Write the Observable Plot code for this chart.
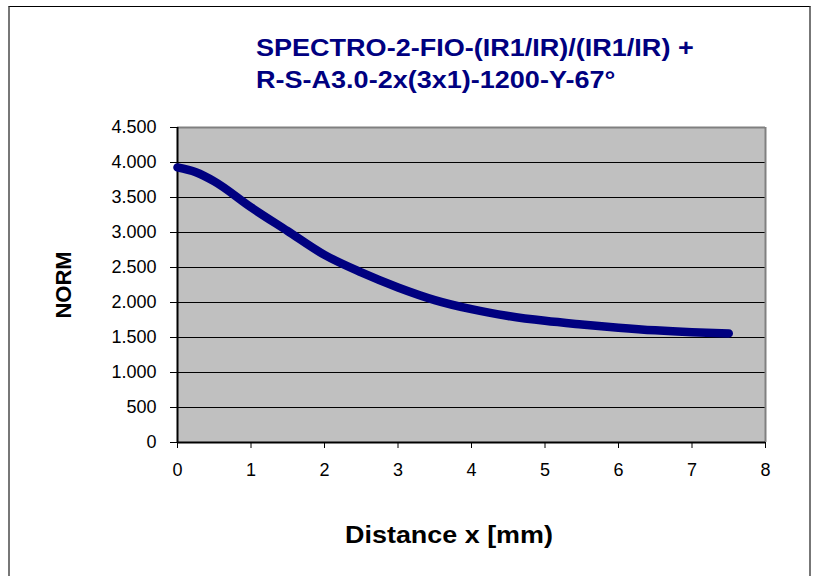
<!DOCTYPE html>
<html><head><meta charset="utf-8">
<script src="https://cdn.jsdelivr.net/npm/d3@7"></script>
<script src="https://cdn.jsdelivr.net/npm/@observablehq/plot@0.6"></script>
<style>
body{margin:0;background:#fff;}
#wrap{position:relative;width:816px;height:576px;overflow:hidden;font-family:"Liberation Sans",Arial,sans-serif;}
#frame{position:absolute;left:8px;top:6px;width:803px;height:600px;border-top:1px solid #000;border-left:2px solid #777;border-right:2px solid #777;box-sizing:border-box;pointer-events:none;}
#chart{position:absolute;left:0;top:0;}
.title{position:absolute;left:256px;top:32px;color:#000080;font-weight:bold;font-size:23px;line-height:32px;white-space:nowrap;transform:scaleX(1.175);transform-origin:0 0;}
.xlabel{position:absolute;left:449px;top:522px;font-weight:bold;font-size:23px;white-space:nowrap;transform:translateX(-50%) scaleX(1.17);}
.ylabel{position:absolute;left:64px;top:285px;transform:translate(-50%,-50%) rotate(-90deg);font-weight:bold;font-size:22px;white-space:nowrap;}
</style></head>
<body>
<div id="wrap">
  <div id="chart"></div>
  <div class="title">SPECTRO-2-FIO-(IR1/IR)/(IR1/IR) +<br>R-S-A3.0-2x(3x1)-1200-Y-67°</div>
  <div class="ylabel">NORM</div>
  <div class="xlabel">Distance x [mm)</div>
  <div id="frame"></div>
</div>
<script>
const distance = [0, 0.25, 0.5, 1, 1.5, 2, 2.5, 3, 3.5, 4, 4.5, 5, 5.5, 6, 6.5, 7, 7.5];
const norm = [3930, 3860, 3730, 3360, 3020, 2680, 2430, 2215, 2035, 1905, 1808, 1738, 1686, 1640, 1602, 1575, 1557];
const yTicks = [0, 500, 1000, 1500, 2000, 2500, 3000, 3500, 4000, 4500];
const xTicks = [0, 1, 2, 3, 4, 5, 6, 7, 8];

const data = distance.map((d, i) => ({x: d, y: norm[i]}));
const fmt = d3.formatLocale({thousands: ".", grouping: [3], decimal: ","}).format(",");

const plot = Plot.plot({
  width: 816,
  height: 576,
  marginLeft: 177,
  marginRight: 51,
  marginTop: 127,
  marginBottom: 134,
  style: {fontFamily: '"Liberation Sans", Arial, sans-serif', fontSize: "18px", color: "#000", background: "transparent"},
  x: {domain: [0, 8]},
  y: {domain: [0, 4500]},
  marks: [
    Plot.frame({fill: "#c0c0c0", stroke: null}),
    Plot.ruleY(yTicks.filter(d => d > 0 && d < 4500), {stroke: "#000", strokeWidth: 1.2}),
    Plot.ruleY([4500], {stroke: "#808080", strokeWidth: 2}),
    Plot.ruleX([8], {stroke: "#808080", strokeWidth: 2}),
    Plot.ruleX([0], {stroke: "#000", strokeWidth: 2}),
    Plot.ruleY([0], {stroke: "#000", strokeWidth: 2}),
    Plot.axisY({ticks: yTicks, tickSize: 7, tickPadding: 14, tickFormat: fmt, label: null, stroke: "#000"}),
    Plot.axisX({ticks: xTicks, tickSize: 6, tickPadding: 15, label: null, stroke: "#000"}),
    Plot.line(data, {x: "x", y: "y", stroke: "#000080", strokeWidth: 8.5, curve: "monotone-x", strokeLinecap: "round", strokeLinejoin: "round"})
  ]
});
document.getElementById("chart").appendChild(plot);
</script>
</body></html>
